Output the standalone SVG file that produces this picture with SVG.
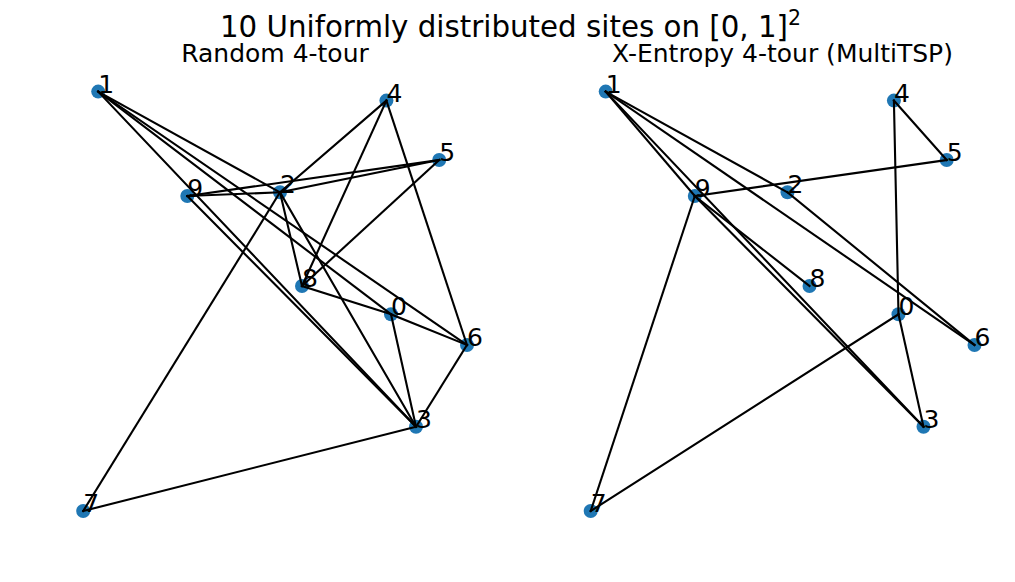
<svg xmlns="http://www.w3.org/2000/svg" width="1015" height="582" viewBox="0 0 1015 582">
<style>
  text { font-family: "DejaVu Sans", "Liberation Sans", sans-serif; fill: #000; }
  .title { font-size: 29.3px; text-anchor: middle; }
  .sub { font-size: 25px; text-anchor: middle; }
  .lbl { font-size: 25px; text-anchor: middle; }
  .node circle { fill: #1f77b4; stroke: none; }
  .edges line { stroke: #000; stroke-width: 2.1; stroke-linecap: square; }
</style>
<rect width="1015" height="582" fill="#fff"/>
<text class="title" x="510.5" y="37">10 Uniformly distributed sites on [0, 1]<tspan font-size="20.5px" dy="-12">2</tspan></text>
<text class="sub" x="275" y="62">Random 4-tour</text>
<text class="sub" x="782.5" y="62">X-Entropy 4-tour (MultiTSP)</text>

<g id="left-nodes">
  <g id="L0" class="node"><circle cx="391" cy="314.3" r="7"/><text class="lbl" x="399" y="315.3">0</text></g>
  <g id="L1" class="node"><circle cx="98.2" cy="91.6" r="7"/><text class="lbl" x="106.2" y="92.6">1</text></g>
  <g id="L2" class="node"><circle cx="280" cy="192.3" r="7"/><text class="lbl" x="288" y="193.3">2</text></g>
  <g id="L3" class="node"><circle cx="416" cy="426.8" r="7"/><text class="lbl" x="424" y="427.8">3</text></g>
  <g id="L4" class="node"><circle cx="386.4" cy="100.6" r="7"/><text class="lbl" x="394.4" y="101.6">4</text></g>
  <g id="L5" class="node"><circle cx="439.2" cy="160" r="7"/><text class="lbl" x="447.2" y="161">5</text></g>
  <g id="L6" class="node"><circle cx="467" cy="345" r="7"/><text class="lbl" x="475" y="346">6</text></g>
  <g id="L7" class="node"><circle cx="83.2" cy="511" r="7"/><text class="lbl" x="91.2" y="512">7</text></g>
  <g id="L8" class="node"><circle cx="302" cy="286" r="7"/><text class="lbl" x="310" y="287">8</text></g>
  <g id="L9" class="node"><circle cx="187.3" cy="196" r="7"/><text class="lbl" x="195.3" y="197">9</text></g>
</g>

<g id="right-nodes">
  <g id="R0" class="node"><circle cx="898.5" cy="314.3" r="7"/><text class="lbl" x="906.5" y="315.3">0</text></g>
  <g id="R1" class="node"><circle cx="605.7" cy="91.6" r="7"/><text class="lbl" x="613.7" y="92.6">1</text></g>
  <g id="R2" class="node"><circle cx="787.5" cy="192.3" r="7"/><text class="lbl" x="795.5" y="193.3">2</text></g>
  <g id="R3" class="node"><circle cx="923.5" cy="426.8" r="7"/><text class="lbl" x="931.5" y="427.8">3</text></g>
  <g id="R4" class="node"><circle cx="893.9" cy="100.6" r="7"/><text class="lbl" x="901.9" y="101.6">4</text></g>
  <g id="R5" class="node"><circle cx="946.7" cy="160" r="7"/><text class="lbl" x="954.7" y="161">5</text></g>
  <g id="R6" class="node"><circle cx="974.5" cy="345" r="7"/><text class="lbl" x="982.5" y="346">6</text></g>
  <g id="R7" class="node"><circle cx="590.7" cy="511" r="7"/><text class="lbl" x="598.7" y="512">7</text></g>
  <g id="R8" class="node"><circle cx="809.5" cy="286" r="7"/><text class="lbl" x="817.5" y="287">8</text></g>
  <g id="R9" class="node"><circle cx="694.8" cy="196" r="7"/><text class="lbl" x="702.8" y="197">9</text></g>
</g>

<g id="connectors" class="edges">
  <!-- left: random 4-tour -->
  <line x1="98.2" y1="91.6" x2="280" y2="192.3"/>
  <line x1="98.2" y1="91.6" x2="416" y2="426.8"/>
  <line x1="98.2" y1="91.6" x2="391" y2="314.3"/>
  <line x1="98.2" y1="91.6" x2="467" y2="345"/>
  <line x1="187.3" y1="196" x2="280" y2="192.3"/>
  <line x1="187.3" y1="196" x2="439.2" y2="160"/>
  <line x1="187.3" y1="196" x2="416" y2="426.8"/>
  <line x1="280" y1="192.3" x2="439.2" y2="160"/>
  <line x1="280" y1="192.3" x2="386.4" y2="100.6"/>
  <line x1="280" y1="192.3" x2="83.2" y2="511"/>
  <line x1="280" y1="192.3" x2="302" y2="286"/>
  <line x1="280" y1="192.3" x2="416" y2="426.8"/>
  <line x1="386.4" y1="100.6" x2="302" y2="286"/>
  <line x1="386.4" y1="100.6" x2="467" y2="345"/>
  <line x1="439.2" y1="160" x2="302" y2="286"/>
  <line x1="302" y1="286" x2="391" y2="314.3"/>
  <line x1="391" y1="314.3" x2="467" y2="345"/>
  <line x1="391" y1="314.3" x2="416" y2="426.8"/>
  <line x1="467" y1="345" x2="416" y2="426.8"/>
  <line x1="416" y1="426.8" x2="83.2" y2="511"/>
  <!-- right: X-Entropy 4-tour -->
  <line x1="605.7" y1="91.6" x2="787.5" y2="192.3"/>
  <line x1="787.5" y1="192.3" x2="974.5" y2="345"/>
  <line x1="605.7" y1="91.6" x2="974.5" y2="345"/>
  <line x1="605.7" y1="91.6" x2="694.8" y2="196"/>
  <line x1="605.7" y1="91.6" x2="923.5" y2="426.8"/>
  <line x1="694.8" y1="196" x2="946.7" y2="160"/>
  <line x1="946.7" y1="160" x2="893.9" y2="100.6"/>
  <line x1="893.9" y1="100.6" x2="898.5" y2="314.3"/>
  <line x1="898.5" y1="314.3" x2="590.7" y2="511"/>
  <line x1="590.7" y1="511" x2="694.8" y2="196"/>
  <line x1="898.5" y1="314.3" x2="923.5" y2="426.8"/>
  <line x1="694.8" y1="196" x2="923.5" y2="426.8"/>
  <line x1="694.8" y1="196" x2="809.5" y2="286"/>
</g>
</svg>
